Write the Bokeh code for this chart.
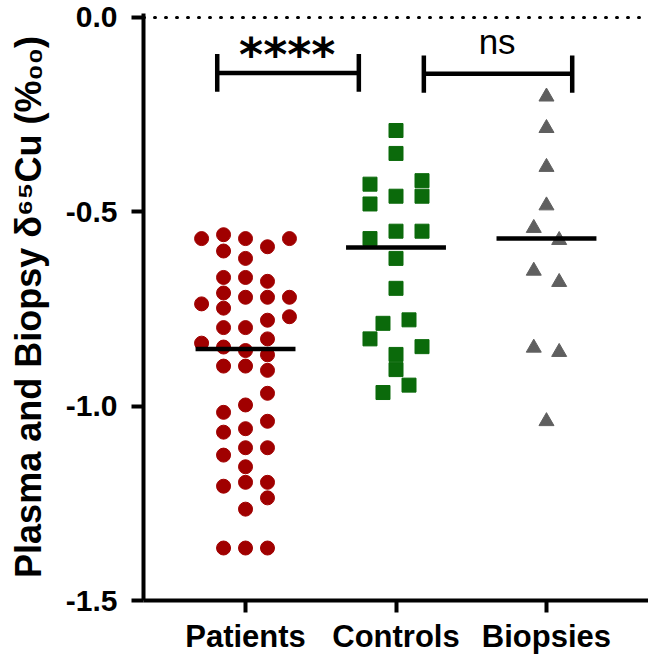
from bokeh.plotting import figure
from bokeh.models import Range1d, FixedTicker, Span
from bokeh.core.properties import value
from bokeh.embed import file_html
from bokeh.resources import INLINE

# ---------------- data ----------------
categories = ["Patients", "Controls", "Biopsies"]

patients = [-0.569, -0.737, -0.838,
            -0.559, -0.601, -0.669, -0.709, -0.748, -0.798, -0.848, -0.897,
            -1.016, -1.067, -1.126, -1.206, -1.365,
            -0.569, -0.620, -0.669, -0.720, -0.798, -0.857, -0.897, -0.997,
            -1.058, -1.107, -1.156, -1.196, -1.265, -1.365,
            -0.590, -0.679, -0.720, -0.779, -0.827, -0.868, -0.908, -0.967,
            -1.039, -1.107, -1.196, -1.236, -1.365,
            -0.569, -0.720, -0.770]
patients_slot = [-2] * 3 + [-1] * 13 + [0] * 14 + [1] * 13 + [2] * 3

controls = [-0.291, -0.350, -0.460, -0.550, -0.620, -0.697, -0.867, -0.906,
            -0.429, -0.480, -0.569, -0.827,
            -0.420, -0.460, -0.550, -0.847,
            -0.787, -0.965,
            -0.778, -0.946]
controls_slot = [0] * 8 + [-2] * 4 + [2] * 4 + [-1] * 2 + [1] * 2

biopsies = [-0.204, -0.285, -0.385, -0.484, -1.039,
            -0.542, -0.652, -0.850,
            -0.573, -0.681, -0.861]
biopsies_slot = [0] * 5 + [-1] * 3 + [1] * 3

medians = [-0.853, -0.592, -0.569]

y_ticks = [0.0, -0.5, -1.0, -1.5]
y_tick_labels = ["0.0", "-0.5", "-1.0", "-1.5"]

sig_labels = ["****", "ns"]

# ---------------- figure ----------------
FONT = "Liberation Sans"

p = figure(width=648, height=656,
           x_range=Range1d(-0.678, 2.678), y_range=Range1d(-1.5, 0.01),
           output_backend="svg", toolbar_location=None,
           min_border_left=143, min_border_right=0,
           min_border_top=13, min_border_bottom=53)
p.outline_line_color = None
p.xgrid.visible = False
p.ygrid.visible = False
p.background_fill_color = "white"
p.border_fill_color = "white"

# dotted zero line
p.add_layout(Span(location=0.0, dimension="width", line_color="black",
                  line_width=3, line_dash="1 10", line_cap="round"))

# points
def xs(center, slots, step):
    return [center + s * step for s in slots]

p.scatter(xs(0, patients_slot, 0.146), patients, marker="circle", size=14,
          fill_color="#A00000", line_color="#A00000")
p.scatter(xs(1, controls_slot, 0.0864), controls, marker="square", size=14,
          fill_color="#0B6A0B", line_color="#0B6A0B")
p.scatter(xs(2, biopsies_slot, 0.0844), biopsies, marker="triangle", size=15,
          fill_color="#5F5F5F", line_color="#5F5F5F")

# median lines
half = 0.332
p.segment(x0=[i - half for i in range(3)], x1=[i + half for i in range(3)],
          y0=medians, y1=medians, line_color="black", line_width=4.5)

# significance brackets
br = [(-0.188, 0.753, -0.143, -0.094, -0.191),
      (1.185, 2.171, -0.145, -0.098, -0.194)]
for (xa, xb, yh, yt, yb) in br:
    p.segment(x0=[xa, xa, xb], x1=[xb, xa, xb], y0=[yh, yt, yt], y1=[yh, yb, yb],
              line_color="black", line_width=4.5)

p.text(x=[0.277], y=[-0.097], text=[sig_labels[0]], text_font=value("DejaVu Sans"),
       text_font_size="46px", text_font_style="bold", text_align="center",
       text_baseline="alphabetic", text_color="black")
p.text(x=[1.672], y=[-0.061], text=[sig_labels[1]], text_font=value(FONT),
       text_font_size="35px", text_align="center",
       text_baseline="alphabetic", text_color="black")

# axes
p.yaxis.ticker = FixedTicker(ticks=y_ticks)
p.yaxis.major_label_overrides = {t: l for t, l in zip(y_ticks, y_tick_labels)}
p.yaxis.axis_label = "Plasma and Biopsy δ⁶⁵Cu (%₀₀)"
p.yaxis.axis_label_text_font = FONT
p.yaxis.axis_label_text_font_style = "bold"
p.yaxis.axis_label_text_font_size = "36px"
p.yaxis.axis_label_standoff = 14

p.xaxis.ticker = FixedTicker(ticks=[0, 1, 2])
p.xaxis.major_label_overrides = {i: c for i, c in enumerate(categories)}

for ax in (p.xaxis, p.yaxis):
    ax.axis_line_width = 4
    ax.axis_line_color = "black"
    ax.major_tick_line_width = 4
    ax.major_tick_line_color = "black"
    ax.major_tick_out = 12
    ax.major_tick_in = 0
    ax.minor_tick_line_color = None
    ax.major_label_text_font = FONT
    ax.major_label_text_font_style = "bold"
    ax.major_label_text_font_size = "30px"
    ax.major_label_text_color = "black"
    ax.axis_label_text_color = "black"

p.xaxis.major_label_text_font_size = "31px"
p.yaxis.major_label_standoff = 14
p.xaxis.major_label_standoff = 6

open("out.html", "w").write(file_html(p, INLINE))
